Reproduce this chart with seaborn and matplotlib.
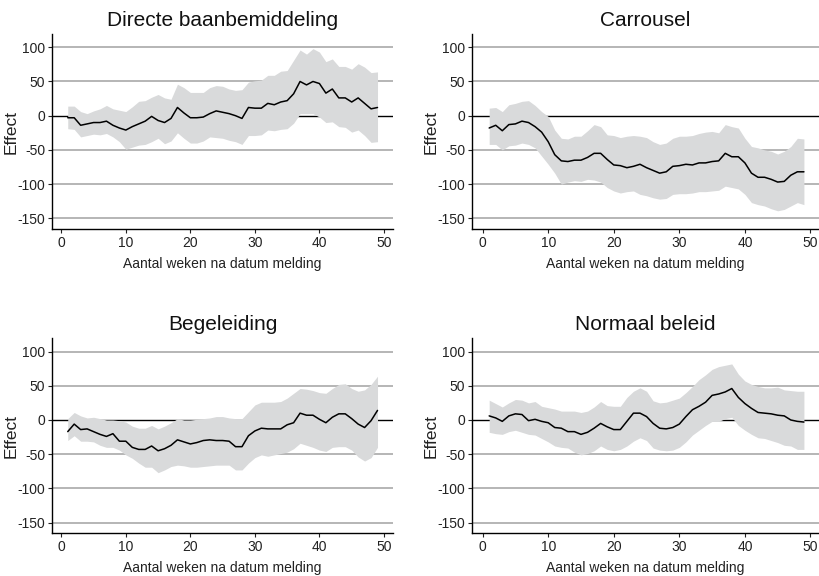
import matplotlib
matplotlib.use("Agg")
import matplotlib.pyplot as plt
import numpy as np
import pandas as pd
import seaborn as sns

# Weeks since registration
weeks = list(range(1, 50))

titles = ["Directe baanbemiddeling", "Carrousel", "Begeleiding", "Normaal beleid"]

# Point estimates and confidence bounds per programme
directe_effect = [-3, -3, -14, -12, -10, -10, -8, -14, -18, -21, -16, -12, -8, -1, -7,
                  -10, -4, 12, 4, -3, -3, -2, 3, 7, 5, 3, 0, -4, 12, 11,
                  11, 18, 16, 20, 22, 32, 50, 45, 50, 47, 33, 39, 26, 26, 20,
                  26, 18, 10, 12]
directe_upper = [14, 14, 6, 3, 7, 10, 15, 10, 8, 6, 13, 21, 22, 27, 31,
                 26, 24, 46, 41, 34, 34, 34, 41, 44, 43, 39, 37, 38, 49, 51,
                 52, 59, 59, 65, 66, 81, 96, 90, 98, 93, 79, 83, 72, 72, 68,
                 76, 71, 63, 64]
directe_lower = [-19, -20, -31, -29, -27, -28, -26, -31, -38, -49, -46, -43, -42, -38, -33,
                 -41, -37, -25, -33, -40, -40, -37, -31, -32, -33, -36, -38, -42, -29, -29,
                 -28, -21, -22, -20, -19, -11, 3, 3, 3, -2, -10, -9, -16, -17, -24,
                 -21, -29, -39, -38]

carrousel_effect = [-18, -14, -22, -13, -12, -8, -10, -16, -24, -38, -57, -66, -67, -65, -65,
                    -61, -55, -55, -64, -72, -73, -76, -74, -71, -76, -80, -84, -82, -74, -73,
                    -71, -72, -69, -69, -67, -66, -55, -60, -60, -69, -84, -90, -90, -93, -97,
                    -96, -87, -82, -82]
carrousel_upper = [11, 12, 6, 16, 18, 21, 22, 15, 6, -1, -21, -33, -34, -30, -30,
                   -22, -13, -16, -28, -29, -32, -30, -29, -30, -32, -38, -42, -40, -33, -30,
                   -30, -29, -26, -24, -23, -25, -13, -16, -18, -33, -45, -47, -50, -52, -56,
                   -52, -45, -33, -34]
carrousel_lower = [-42, -42, -50, -44, -43, -40, -42, -47, -59, -71, -84, -100, -97, -95, -96,
                   -93, -94, -97, -105, -110, -113, -111, -110, -115, -117, -120, -122, -121, -115, -114,
                   -114, -113, -111, -111, -110, -109, -103, -105, -107, -115, -127, -130, -132, -136, -139,
                   -137, -132, -127, -130]

begeleiding_effect = [-17, -6, -14, -13, -17, -21, -24, -20, -31, -31, -40, -43, -43, -38, -45,
                      -42, -37, -29, -32, -35, -33, -30, -29, -30, -30, -31, -39, -39, -23, -16,
                      -12, -13, -13, -13, -7, -4, 10, 7, 7, 1, -4, 4, 9, 9, 2,
                      -6, -11, -1, 14]
begeleiding_upper = [2, 11, 6, 3, 4, 2, 0, 0, -1, -3, -9, -12, -12, -8, -13,
                     -9, -4, 2, 0, 0, 1, 2, 3, 5, 5, 3, 2, 2, 12, 22,
                     26, 26, 26, 27, 32, 39, 46, 45, 43, 40, 39, 46, 52, 53, 46,
                     42, 44, 52, 64]
begeleiding_lower = [-30, -23, -31, -31, -32, -37, -40, -40, -44, -51, -56, -63, -69, -69, -77,
                     -73, -68, -66, -67, -69, -69, -68, -67, -66, -66, -66, -73, -73, -63, -55,
                     -51, -53, -51, -49, -47, -42, -34, -37, -40, -44, -46, -40, -39, -39, -44,
                     -54, -60, -55, -40]

normaal_effect = [6, 3, -2, 6, 9, 8, -1, 1, -2, -4, -11, -12, -17, -17, -21,
                  -18, -12, -5, -10, -14, -14, -2, 10, 10, 5, -5, -12, -13, -11, -6,
                  5, 15, 20, 26, 36, 38, 41, 46, 33, 24, 17, 11, 10, 9, 7,
                  6, 0, -2, -3]
normaal_upper = [29, 24, 19, 25, 30, 29, 25, 27, 20, 18, 16, 13, 13, 13, 11,
                 13, 19, 27, 21, 20, 20, 33, 42, 47, 42, 28, 25, 26, 29, 32,
                 40, 49, 59, 66, 74, 78, 80, 82, 67, 57, 52, 49, 47, 47, 48,
                 44, 43, 42, 42]
normaal_lower = [-18, -20, -21, -17, -15, -18, -21, -22, -27, -32, -38, -40, -41, -47, -51,
                 -49, -45, -38, -43, -45, -43, -38, -31, -26, -30, -41, -44, -45, -44, -40,
                 -32, -22, -15, -8, -2, -2, 2, 4, -8, -15, -21, -26, -27, -30, -33,
                 -37, -38, -43, -43]

x_ticks = [0, 10, 20, 30, 40, 50]
y_ticks = [-150, -100, -50, 0, 50, 100]

series = [
    (directe_effect, directe_lower, directe_upper),
    (carrousel_effect, carrousel_lower, carrousel_upper),
    (begeleiding_effect, begeleiding_lower, begeleiding_upper),
    (normaal_effect, normaal_lower, normaal_upper),
]

sns.set_theme(style="white")
plt.rcParams["font.family"] = ["Liberation Sans", "DejaVu Sans"]
plt.rcParams["axes.edgecolor"] = "black"
plt.rcParams["xtick.color"] = "#222222"
plt.rcParams["ytick.color"] = "#222222"

fig = plt.figure(figsize=(8.19, 5.76), dpi=100)

W, H = 819.0, 576.0
# (left px, right px, top px, bottom px, xlim)
boxes = [
    (52.0, 393.0, 34.0, 229.0, (-1.44, 51.4)),
    (472.0, 819.0, 34.0, 229.0, (-1.62, 51.3)),
    (52.0, 393.0, 338.3, 533.3, (-1.44, 51.4)),
    (472.0, 819.0, 338.3, 533.3, (-1.62, 51.3)),
]

band_color = "#d9dadb"
grid_color = "#a9a9a9"

for (left, right, top, bottom, xlim), title, (eff, lo, hi) in zip(boxes, titles, series):
    ax = fig.add_axes([left / W, 1 - bottom / H, (right - left) / W, (bottom - top) / H])
    df = pd.DataFrame({"week": weeks, "effect": eff, "lower": lo, "upper": hi})

    for v in y_ticks:
        if v == 0:
            continue
        ax.axhline(v, color=grid_color, lw=1.2, zorder=0)
    ax.axhline(0, color="black", lw=1.0, zorder=1)

    ax.fill_between(df["week"], df["lower"], df["upper"], color=band_color, lw=0, zorder=2)
    sns.lineplot(data=df, x="week", y="effect", color="black", lw=1.1, ax=ax, zorder=3)

    ax.set_xlim(*xlim)
    ax.set_ylim(-165.6, 119.4)
    ax.set_xticks(x_ticks)
    ax.set_yticks(y_ticks)
    ax.set_yticklabels([str(t) for t in y_ticks])
    ax.tick_params(axis="both", direction="out", length=3, width=0.8, pad=2,
                   labelsize=10, bottom=True, left=True)

    for side in ("top", "right"):
        ax.spines[side].set_visible(False)
    for side in ("left", "bottom"):
        ax.spines[side].set_color("black")
        ax.spines[side].set_linewidth(1.0)

    ax.set_xlabel("Aantal weken na datum melding", fontsize=10, labelpad=5, color="#222222")
    ax.set_ylabel("Effect", fontsize=12.5, labelpad=-1, color="#222222")
    ax.set_title(title, fontsize=15, pad=6, color="#111111")

fig.savefig("out.png", dpi=100)
